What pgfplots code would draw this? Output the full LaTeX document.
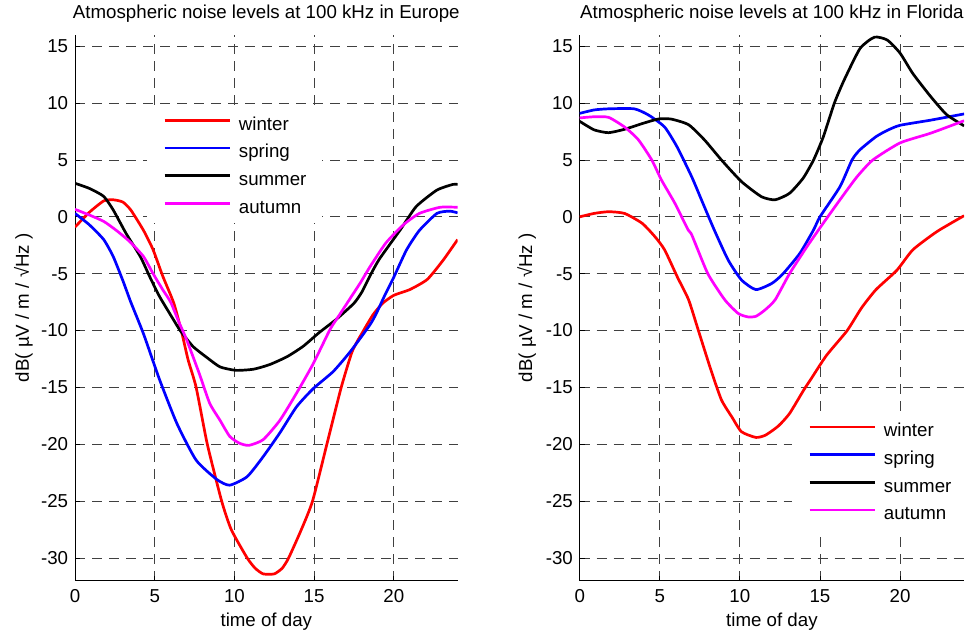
\documentclass[border=0pt]{standalone}
\usepackage{fontspec}
\setmainfont{Liberation Sans}
\usepackage{pgfplots}
\pgfplotsset{compat=1.18}
\definecolor{mred}{RGB}{255,0,0}
\definecolor{mblue}{RGB}{0,0,255}
\definecolor{mmag}{RGB}{255,0,255}
\begin{document}
\begin{tikzpicture}
\useasboundingbox (0,0) rectangle (971pt,634pt);
\pgfplotsset{
 myax/.style={
  scale only axis, height=545.8pt,
  xmin=0, xmax=24, ymin=-32, ymax=16,
  xtick={0,5,10,15,20}, xticklabels={0,5,10,15,20},
  ytick={-30,-25,-20,-15,-10,-5,0,5,10,15},
  yticklabels={-30,-25,-20,-15,-10,-5,0,5,10,15},
  axis x line*=bottom, axis y line*=left,
  axis line style={line width=0.9pt, black, -},
  tick align=inside, major tick length=5pt,
  tick style={black, line width=0.9pt},
  grid=major,
  major grid style={black!75, line width=0.9pt, dash pattern=on 10pt off 7pt},
  font=\fontsize{18.7pt}{22pt}\selectfont,
  xticklabel style={anchor=center, inner sep=0pt, yshift=-15.7pt},
  yticklabel style={anchor=east, inner sep=0pt, xshift=-6.7pt},
  title style={at={(axis description cs:0.5,1.0285)}, anchor=center, inner sep=0pt},
  xlabel style={at={(axis description cs:0.5,-0.0746)}, anchor=center, inner sep=0pt},
  xlabel={time of day},
  ylabel={dB( µV / m / √Hz )},
  legend cell align=left,
  legend image code/.code={\draw[##1] (0pt,5pt) -- (65pt,5pt); \path (73pt,5pt);},
  every axis plot/.append style={line width=2.7pt, line join=round, mark=none, smooth, tension=0.35},
 },
 mylegend/.style={
  legend style={draw=none, fill=white, inner xsep=16pt, inner ysep=6pt,
   row sep=9.7pt, anchor=north west,
   nodes={inner sep=0pt, text height=14pt, text depth=4pt},
   font=\fontsize{18.7pt}{22pt}\selectfont}
 }
}
% ---------------- Europe ----------------
\begin{axis}[myax, mylegend, width=382.6pt, at={(75pt,53.3pt)}, anchor=south west,
  title={Atmospheric noise levels at 100 kHz in Europe},
  ylabel style={at={(axis description cs:-0.1346,0.5)}, anchor=center, inner sep=0pt},
  legend style={at={(axis description cs:0.1882,0.8624)}}]
\addplot[mred] coordinates {
(0,-0.9) (0.9,0.4) (1.8,1.4) (2.4,1.5) (3.0,1.3) (3.5,0.6) (4.3,-1.2) (4.9,-2.9)
(5.5,-5.2) (6.2,-7.6) (6.7,-10.2) (7.1,-12.6) (7.6,-15) (8.3,-20) (9.2,-25)
(9.8,-27.5) (10.8,-30) (11.3,-30.9) (11.8,-31.4) (12.5,-31.4) (13.0,-30.9)
(13.4,-30) (14.2,-27.5) (14.9,-25) (15.8,-20) (16.7,-15) (17.4,-11.8) (18.1,-10)
(18.7,-8.6) (19.3,-7.6) (20,-6.9) (21,-6.4) (22.1,-5.5) (23.1,-3.8) (24,-2.0)};
\addlegendentry{winter}
\addplot[mblue] coordinates {
(0,0.3) (0.9,-0.7) (1.8,-2.0) (2.4,-3.5) (3.0,-5.6) (3.5,-7.5) (4.3,-10.3)
(5.3,-14.3) (6.4,-18.2) (7.6,-21.4) (8.9,-23.1) (9.7,-23.6) (10.8,-22.85)
(11.8,-21.1) (12.85,-19.0) (13.9,-16.7) (14.95,-15.1) (16.2,-13.6) (17.3,-11.8)
(18.5,-9.5) (18.9,-8.5) (19.4,-7.0) (20,-5.3) (20.8,-2.9) (21.6,-1.2) (22.7,0.3)
(23.5,0.5) (24,0.35)};
\addlegendentry{spring}
\addplot[black] coordinates {
(0,2.95) (0.9,2.5) (1.8,1.8) (2.4,0.6) (3.2,-1.45) (4.1,-3.5) (4.7,-5.3)
(5.3,-7.0) (6.2,-9.1) (6.6,-10) (7.4,-11.4) (8.3,-12.4) (9.1,-13.2) (10.1,-13.5)
(11.2,-13.4) (12.2,-13.0) (13.3,-12.3) (14.3,-11.4) (15.3,-10.2) (16.4,-9.0)
(17.5,-7.6) (18.0,-6.6) (18.5,-5.2) (19.1,-3.7) (20.4,-1.15) (21.4,0.9)
(22.7,2.35) (23.7,2.85) (24,2.85)};
\addlegendentry{summer}
\addplot[mmag] coordinates {
(0,0.66) (0.9,0.16) (1.8,-0.4) (2.6,-1.2) (3.45,-2.2) (4.3,-3.5) (4.9,-5.0)
(5.5,-6.4) (6.0,-7.5) (6.5,-9.2) (7.0,-10.8) (7.8,-13.8) (8.45,-16.4) (9.1,-17.9)
(9.7,-19.3) (10.3,-19.9) (10.9,-20.1) (11.8,-19.6) (12.85,-17.9) (13.9,-15.5)
(14.95,-12.9) (16.0,-9.9) (16.6,-8.6) (17.25,-7.2) (17.9,-5.8) (18.5,-4.4)
(19.5,-2.3) (20.6,-0.7) (21.6,0.3) (22.9,0.84) (24,0.84)};
\addlegendentry{autumn}
\end{axis}
% ---------------- Florida ----------------
\begin{axis}[myax, mylegend, width=384.4pt, at={(579.7pt,53.3pt)}, anchor=south west,
  title={Atmospheric noise levels at 100 kHz in Florida},
  ylabel style={at={(axis description cs:-0.138,0.5)}, anchor=center, inner sep=0pt},
  legend style={at={(axis description cs:0.5523,0.3005)}}]
\addplot[mred] coordinates {
(0,0.0) (0.9,0.3) (1.8,0.45) (2.8,0.3) (3.9,-0.57) (4.7,-1.75) (5.3,-2.9)
(6.1,-5.3) (6.8,-7.3) (7.4,-9.95) (8.2,-13.5) (8.85,-16.1) (9.5,-17.6)
(10.1,-18.9) (11.0,-19.4) (11.6,-19.2) (12.4,-18.4) (13.1,-17.3) (14.0,-15.2)
(14.4,-14.35) (15.4,-12.2) (16.7,-10.0) (17.6,-8.0) (18.5,-6.4) (19.8,-4.7)
(20.8,-2.9) (22.3,-1.3) (24,0.1)};
\addlegendentry{winter}
\addplot[mblue] coordinates {
(0,9.1) (0.9,9.4) (1.8,9.5) (3.4,9.5) (4.3,8.95) (5.3,7.9) (6.1,6.1) (7.0,3.5)
(7.6,1.5) (8.4,-1.15) (9.27,-3.8) (10.1,-5.55) (11.0,-6.4) (12.0,-5.85)
(12.7,-5.0) (13.75,-3.2) (14.6,-1.15) (15.0,0.0) (16.25,2.65) (17.0,5.0)
(17.5,5.9) (18.5,7.05) (19.2,7.6) (20,8.05) (21.9,8.5) (24,9.05)};
\addlegendentry{spring}
\addplot[black] coordinates {
(0,8.4) (0.9,7.65) (1.8,7.4) (2.8,7.7) (3.9,8.2) (4.9,8.6) (5.7,8.6) (6.8,8.1)
(7.8,6.75) (8.85,5.0) (10.1,3.1) (11.35,1.77) (12.2,1.5) (13.1,2.07)
(13.95,3.4) (14.6,5.0) (15.2,7.0) (15.9,10.0) (16.5,12.0) (17.5,14.8)
(18.4,15.8) (19.2,15.55) (20,14.4) (20.8,12.6) (21.9,10.6) (22.9,9.0) (24,8.0)};
\addlegendentry{summer}
\addplot[mmag] coordinates {
(0,8.7) (0.9,8.8) (1.8,8.75) (2.8,7.9) (3.65,6.8) (4.5,5.0) (5.1,3.25)
(5.94,1.2) (6.77,-1.15) (7.0,-1.6) (8.0,-5.0) (9.06,-7.3) (9.9,-8.5)
(10.5,-8.8) (11.0,-8.75) (11.56,-8.2) (12.2,-7.3) (13.1,-5.0) (14.2,-2.6)
(15.2,-0.57) (16.25,1.5) (17.3,3.5) (18.3,5.0) (20,6.5) (21.9,7.35) (24,8.45)};
\addlegendentry{autumn}
\end{axis}
\end{tikzpicture}
\end{document}
